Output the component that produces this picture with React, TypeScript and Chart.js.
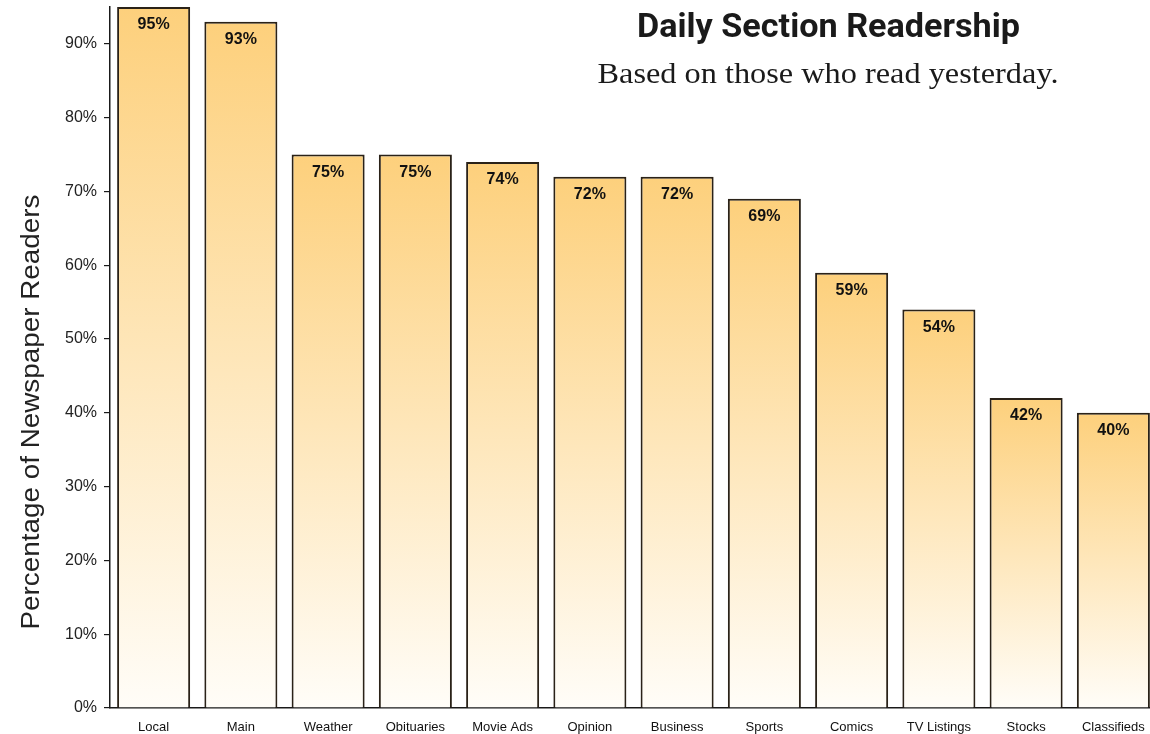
import React, { useEffect, useRef } from "react";
import { Chart, registerables } from "chart.js";

Chart.register(...registerables);

const categories = ["Local", "Main", "Weather", "Obituaries", "Movie Ads", "Opinion", "Business", "Sports", "Comics", "TV Listings", "Stocks", "Classifieds"];
const readership = [95, 93, 75, 75, 74, 72, 72, 69, 59, 54, 42, 40];
const yTicks = [0, 10, 20, 30, 40, 50, 60, 70, 80, 90];
const titleText = "Daily Section Readership";
const subtitleText = "Based on those who read yesterday.";
const yAxisTitle = "Percentage of Newspaper Readers";

function drawFitted(ctx: CanvasRenderingContext2D, text: string, x: number, y: number, targetWidth: number) {
  const w = ctx.measureText(text).width;
  const s = targetWidth / w;
  ctx.save();
  ctx.translate(x, y);
  ctx.scale(s, 1);
  ctx.textAlign = "center";
  ctx.fillText(text, 0, 0);
  ctx.restore();
}

const overlayPlugin = {
  id: "overlay",
  afterDatasetsDraw(chart: any) {
    const ctx: CanvasRenderingContext2D = chart.ctx;
    const meta = chart.getDatasetMeta(0);
    ctx.save();
    ctx.fillStyle = "#111";
    ctx.font = 'bold 16px "Liberation Sans", Arial, sans-serif';
    ctx.textAlign = "center";
    ctx.textBaseline = "middle";
    meta.data.forEach((bar: any, i: number) => {
      ctx.fillText(readership[i] + "%", bar.x, bar.y + 18);
    });
    ctx.restore();

    ctx.save();
    ctx.fillStyle = "#1a1a1a";
    ctx.textBaseline = "alphabetic";
    ctx.font = 'bold 33px Roboto, "Liberation Sans", sans-serif';
    drawFitted(ctx, titleText, 828.5, 37, 383);
    ctx.font = '30px "Liberation Serif", "DejaVu Serif", serif';
    drawFitted(ctx, subtitleText, 828, 83, 461);
    ctx.restore();

    ctx.save();
    ctx.fillStyle = "#222";
    ctx.font = '25px "Liberation Sans", Arial, sans-serif';
    ctx.textBaseline = "alphabetic";
    ctx.translate(39, 412);
    ctx.rotate(-Math.PI / 2);
    drawFitted(ctx, yAxisTitle, 0, 0, 435);
    ctx.restore();
  },
};

export default function App() {
  const ref = useRef<HTMLCanvasElement>(null);
  useEffect(() => {
    if (!ref.current) return;
    const chart = new Chart(ref.current, {
      type: "bar",
      data: {
        labels: categories,
        datasets: [
          {
            data: readership,
            backgroundColor: (c: any) => {
              const ch = c.chart;
              if (!ch.chartArea || c.dataIndex === undefined) return "#FDD07C";
              const ys = ch.scales.y;
              const top = ys.getPixelForValue(readership[c.dataIndex]);
              const bottom = ys.getPixelForValue(0);
              const g = ch.ctx.createLinearGradient(0, top, 0, bottom);
              g.addColorStop(0, "#FDD07C");
              g.addColorStop(1, "#FFFDF8");
              return g;
            },
            borderColor: "#2a2218",
            borderWidth: 2,
            borderSkipped: "bottom",
            categoryPercentage: 1,
            barPercentage: 0.837,
          },
        ],
      },
      options: {
        responsive: false,
        animation: false,
        layout: { padding: { top: 7, right: 3, left: 0, bottom: 0 } },
        plugins: { legend: { display: false }, tooltip: { enabled: false }, title: { display: false } },
        scales: {
          x: {
            grid: { display: false, drawTicks: false },
            border: { display: true, color: "#1a1a1a", width: 1.5 },
            ticks: { color: "#111", font: { family: '"Liberation Sans", Arial, sans-serif', size: 13 }, padding: 12, maxRotation: 0, autoSkip: false },
            afterFit: (s: any) => { s.height = 26; s.paddingLeft = 0; s.paddingRight = 0; },
          },
          y: {
            min: 0,
            max: 95,
            afterBuildTicks: (s: any) => { s.ticks = yTicks.map((v) => ({ value: v })); },
            grid: { drawOnChartArea: false, drawTicks: true, tickLength: 6, color: "#1a1a1a", lineWidth: 1.2 },
            border: { display: true, color: "#1a1a1a", width: 1.5 },
            ticks: { color: "#222", font: { family: '"Liberation Sans", Arial, sans-serif', size: 16 }, padding: 7, callback: (v: any) => v + "%" },
            afterFit: (s: any) => { s.width = 110; s.paddingTop = 0; s.paddingBottom = 0; },
          },
        },
      },
      plugins: [overlayPlugin],
    });
    return () => chart.destroy();
  }, []);
  return (
    <div style={{ position: "fixed", left: 0, top: 0, width: 1160, height: 734, background: "#fff" }}>
      <canvas ref={ref} width={1160} height={734} style={{ width: 1160, height: 734, display: "block" }} />
    </div>
  );
}
